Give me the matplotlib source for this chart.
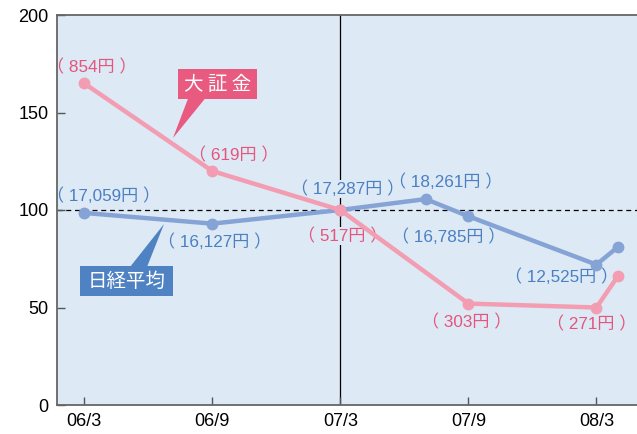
import matplotlib.pyplot as plt
from matplotlib.patches import Rectangle, Polygon

plt.rcParams['font.family'] = ['Noto Sans CJK JP', 'DejaVu Sans']

# months counted from 06/3
tick_pos = [0, 6, 12, 18, 24]
tick_labels = ['06/3', '06/9', '07/3', '07/9', '08/3']

osaka_x = [0, 6, 12, 18, 24, 25]
osaka_y = [165, 120, 100, 52, 50, 66]
osaka_labels = ['854円', '619円', '517円', '303円', '271円', None]

nikkei_x = [0, 6, 12, 16, 18, 24, 25]
nikkei_y = [98.5, 93, 100, 105.6, 96.8, 72, 81]
nikkei_labels = ['17,059円', '16,127円', '17,287円', '18,261円', '16,785円', '12,525円', None]

bg = '#dde9f5'
pink_line = '#f39db2'
pink_text = '#e5557c'
blue_line = '#86a3d6'
blue_text = '#4a80c2'

fig = plt.figure(figsize=(6.37, 4.34), dpi=100)
ax = fig.add_axes([57 / 637, 29 / 434, 580 / 637, 390 / 434])
ax.set_facecolor(bg)

ax.axhline(100, color='black', lw=0.9, ls=(0, (4, 3)), zorder=1)
ax.axvline(12, color='black', lw=0.9, zorder=1)

ax.plot(nikkei_x, nikkei_y, color=blue_line, lw=3.2, marker='o', ms=7.5, zorder=3)
ax.plot(osaka_x, osaka_y, color=pink_line, lw=3.2, marker='o', ms=7.5, zorder=4)

# label offsets in pixels
osaka_off = [(8, 16), (22, 16), (2, -26), (-2, -19), (-5, -17)]
nikkei_off = [(19, 17), (2, -18), (7, 21), (20, 17), (-20, -20), (-35, -12)]


def point_label(x, y, lab, off, color):
    # labels sitting on the 07/3 line hide it behind them
    box = dict(boxstyle='square,pad=0.05', fc=bg, ec='none') if x == 12 else None
    ax.annotate('（ ' + lab + ' ）', (x, y), xytext=off, textcoords='offset pixels',
                ha='center', va='center', fontsize=12.3, color=color, zorder=2,
                family=['Liberation Sans', 'Noto Sans CJK JP'], bbox=box)


for x, y, lab, off in zip(osaka_x, osaka_y, osaka_labels, osaka_off):
    if lab:
        point_label(x, y, lab, off, pink_text)
for x, y, lab, off in zip(nikkei_x, nikkei_y, nikkei_labels, nikkei_off):
    if lab:
        point_label(x, y, lab, off, blue_text)


# callout boxes (axes fraction)
def callout(text, box, tri, color):
    x0, y0, w, h = box
    ax.add_patch(Rectangle((x0, y0), w, h, transform=ax.transAxes, fc=color, ec='none', zorder=6))
    ax.add_patch(Polygon(tri, closed=True, transform=ax.transAxes, fc=color, ec='none', zorder=6))
    ax.text(x0 + w / 2, y0 + h / 2, text, transform=ax.transAxes, ha='center',
            va='center', color='white', fontsize=14, zorder=7)


callout('大 証 金', (0.2086, 0.7846, 0.1362, 0.0769),
        [(0.2, 0.6846), (0.2259, 0.7856), (0.2552, 0.7856)], '#e85a80')
callout('日経平均', (0.0397, 0.279, 0.1603, 0.0769),
        [(0.1845, 0.4641), (0.1259, 0.354), (0.1552, 0.354)], '#4f82c3')

ax.set_xlim(-1.27, 25.9)
ax.set_ylim(0, 200)
ax.set_yticks([0, 50, 100, 150, 200])
ax.set_xticks(tick_pos)
ax.set_xticklabels(tick_labels)
ax.tick_params(direction='in', length=6, width=1, color='#555555', labelsize=13, pad=6)
for lab in ax.get_xticklabels() + ax.get_yticklabels():
    lab.set_family('Liberation Sans')
for s in ['left', 'bottom', 'top']:
    ax.spines[s].set_color('#666666')
    ax.spines[s].set_linewidth(1.3)
ax.spines['right'].set_visible(False)

fig.savefig('out.png', dpi=100)
